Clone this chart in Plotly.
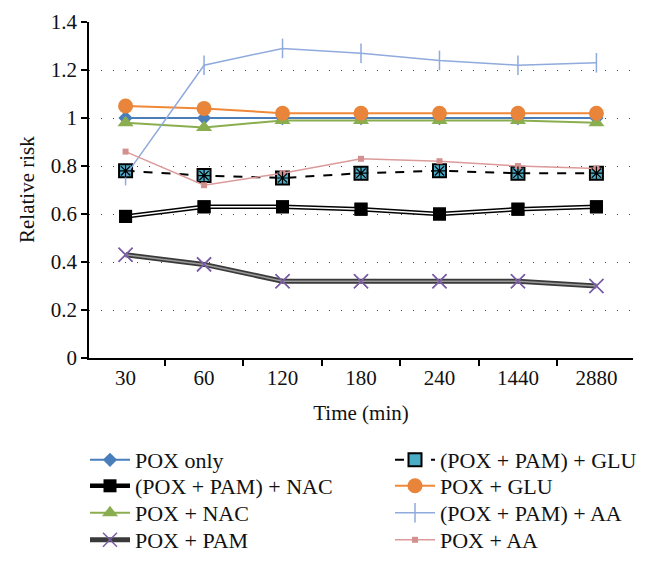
import plotly.graph_objects as go

times = ["30", "60", "120", "180", "240", "1440", "2880"]
pox_only = [1.00, 1.00, 1.00, 1.00, 1.00, 1.00, 1.00]
pam_nac = [0.59, 0.63, 0.63, 0.62, 0.60, 0.62, 0.63]
pox_nac = [0.98, 0.96, 0.99, 0.99, 0.99, 0.99, 0.98]
pox_pam = [0.43, 0.39, 0.32, 0.32, 0.32, 0.32, 0.30]
pam_glu = [0.78, 0.76, 0.75, 0.77, 0.78, 0.77, 0.77]
pox_glu = [1.05, 1.04, 1.02, 1.02, 1.02, 1.02, 1.02]
pam_aa = [0.76, 1.22, 1.29, 1.27, 1.24, 1.22, 1.23]
pox_aa = [0.86, 0.72, 0.77, 0.83, 0.82, 0.80, 0.79]

FONT = "Liberation Serif"
W, H = 648, 571
fig = go.Figure()

fig.add_trace(go.Scatter(x=times, y=pox_only, name="POX only", mode="lines+markers", legend="legend",
                         line=dict(color="#4a7ebb", width=2),
                         marker=dict(symbol="diamond", size=11, color="#4a7ebb")))
fig.add_trace(go.Scatter(x=times, y=pam_nac, name="(POX + PAM) + NAC", mode="lines+markers", legend="legend2",
                         line=dict(color="#000000", width=4.5),
                         marker=dict(symbol="square", size=13, color="#000000")))
fig.add_trace(go.Scatter(x=times, y=pox_nac, name="POX + NAC", mode="lines+markers", legend="legend3",
                         line=dict(color="#8aae4f", width=2),
                         marker=dict(symbol="triangle-up", size=14, color="#8aae4f")))
fig.add_trace(go.Scatter(x=times, y=pox_pam, name="POX + PAM", mode="lines+markers", legend="legend4",
                         line=dict(color="#3a3a3a", width=5),
                         marker=dict(symbol="x-thin-open", size=14, color="#7a5ea6", line=dict(color="#7a5ea6", width=1.5))))
fig.add_trace(go.Scatter(x=times, y=pam_glu, name="(POX + PAM) + GLU", mode="lines+markers", legend="legend5",
                         line=dict(color="#000000", width=2, dash="dash"),
                         marker=dict(symbol="square", size=13, color="#4bacc6", line=dict(color="#000000", width=2))))
fig.add_trace(go.Scatter(x=times, y=pox_glu, name="POX + GLU", mode="lines+markers", legend="legend6",
                         line=dict(color="#f0883a", width=2),
                         marker=dict(symbol="circle", size=15, color="#e8853a")))
fig.add_trace(go.Scatter(x=times, y=pam_aa, name="(POX + PAM) + AA", mode="lines+markers", legend="legend7",
                         line=dict(color="#8faadc", width=1.5),
                         marker=dict(symbol="line-ns-open", size=14, color="#8faadc", line=dict(color="#8faadc", width=1.5))))
fig.add_trace(go.Scatter(x=times, y=pox_aa, name="POX + AA", mode="lines+markers", legend="legend8",
                         line=dict(color="#dc9a9a", width=1.5),
                         marker=dict(symbol="square", size=6, color="#d4908f")))

# inner lines of double lines and marker overlays
fig.add_trace(go.Scatter(x=times, y=pox_pam, mode="lines", line=dict(color="#9a9a9a", width=1.5), showlegend=False, hoverinfo="skip"))
fig.add_trace(go.Scatter(x=times, y=pox_pam, mode="markers", showlegend=False, hoverinfo="skip",
                         marker=dict(symbol="x-thin-open", size=14, color="#7a5ea6", line=dict(color="#7a5ea6", width=1.5))))
fig.add_trace(go.Scatter(x=times, y=pam_nac, mode="lines", line=dict(color="#ffffff", width=1.5), showlegend=False, hoverinfo="skip"))
fig.add_trace(go.Scatter(x=times, y=pam_nac, mode="markers", showlegend=False, hoverinfo="skip",
                         marker=dict(symbol="square", size=13, color="#000000")))
fig.add_trace(go.Scatter(x=times, y=pam_glu, mode="markers", showlegend=False, hoverinfo="skip",
                         marker=dict(symbol="asterisk-open", size=11, color="#000000", line=dict(color="#000000", width=1.2))))

row_centers = [460, 486, 513, 540]
col_left = [85, 390]
legends = {}
k = 1
for c in range(2):
    for r in range(4):
        key = "legend" if k == 1 else f"legend{k}"
        legends[key] = dict(xref="container", yref="container",
                            x=col_left[c] / W, xanchor="left",
                            y=1 - row_centers[r] / H, yanchor="middle",
                            font=dict(family=FONT, size=22, color="#111111"), itemwidth=40,
                            bgcolor="rgba(0,0,0,0)", borderwidth=0)
        k += 1

fig.update_layout(
    width=W, height=H,
    margin=dict(l=89, r=15, t=22, b=213, autoexpand=False),
    paper_bgcolor="white", plot_bgcolor="white",
    font=dict(family=FONT, size=21, color="#111111"),
    showlegend=True,
    xaxis=dict(type="category", showline=True, linecolor="#000000", linewidth=1.5,
               ticks="outside", ticklen=6, tickcolor="#000000", tickwidth=1.5,
               tickson="boundaries", showgrid=False,
               title=dict(text="Time (min)", font=dict(size=21), standoff=16),
               tickfont=dict(size=21)),
    yaxis=dict(range=[0, 1.4], showline=True, linecolor="#000000", linewidth=1.5,
               ticks="outside", ticklen=6, tickcolor="#000000", tickwidth=1.5,
               showgrid=True, gridcolor="#444444", griddash="1px,11px", gridwidth=1.2,
               zeroline=False,
               tickvals=[0, 0.2, 0.4, 0.6, 0.8, 1.0, 1.2, 1.4],
               ticktext=["0", "0.2", "0.4", "0.6", "0.8", "1", "1.2", "1.4"],
               tickfont=dict(size=21)),
    annotations=[dict(text="Relative risk", xref="paper", yref="paper", x=0, y=0.5,
                      xshift=-62, textangle=-90, showarrow=False,
                      xanchor="center", yanchor="middle",
                      font=dict(family=FONT, size=21, color="#111111"))],
    **legends,
)

fig.write_html("out.html", config={"displayModeBar": False},
               post_script="document.body.style.margin='0';")
